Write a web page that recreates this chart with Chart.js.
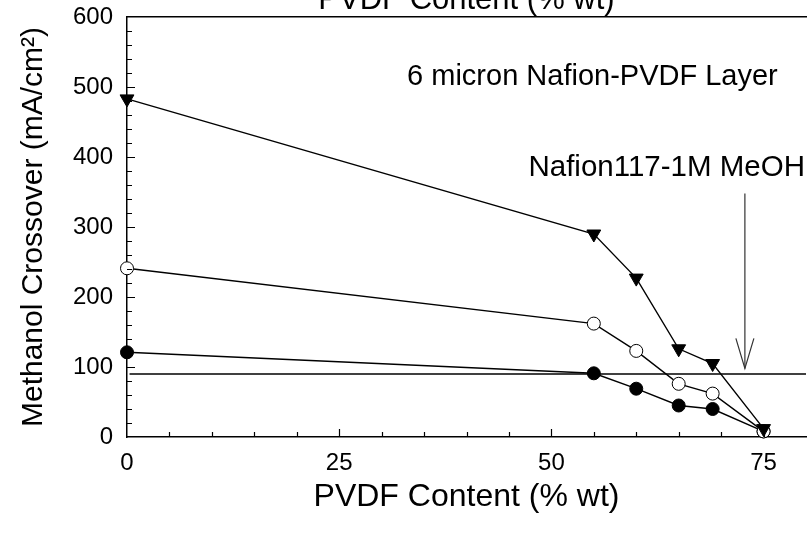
<!DOCTYPE html>
<html>
<head>
<meta charset="utf-8">
<script src="https://cdn.jsdelivr.net/npm/chart.js@4.4.1/dist/chart.umd.min.js"></script>
<style>
    html, body { margin: 0; padding: 0; overflow: hidden; background: #fff; width: 811px; height: 545px; }
    #wrap { position: absolute; left: 0; top: -30px; }
</style>
</head>
<body>
<div id="wrap"><canvas id="crossover-chart" width="815" height="575"></canvas></div>
<script>
// PVDF content of each layer (% wt)
const pvdf = [0, 55, 60, 65, 69, 75];
// methanol crossover current density (mA/cm2) for the three runs
const crossTriangle = [483, 290, 227, 126, 105, 12];
const crossOpen = [241, 162, 123, 76, 62, 8];
const crossFilled = [121, 91, 69, 45, 40, 8];
// Nafion 117 reference level and the arrow pointing at it
const nafionRef = 90;
const arrowX = 72.8;
const arrowFrom = 348;
const arrowTo = 98;

const xTicks = [0, 25, 50, 75];
const yTicks = [0, 100, 200, 300, 400, 500, 600];

const FONT = '"Liberation Sans", Arial, sans-serif';

function pts(ys) {
    return pvdf.map((x, i) => ({ x: x, y: ys[i] }));
}

// tick marks drawn inside the frame, major + minor
const innerTicks = {
    id: 'innerTicks',
    afterDraw(chart) {
        const ctx = chart.ctx;
        const x = chart.scales.x;
        const y = chart.scales.y;
        const area = chart.chartArea;
        ctx.save();
        ctx.strokeStyle = '#000';
        ctx.lineWidth = 1.2;
        ctx.beginPath();
        for (let v = 5; v < x.max; v += 5) {
            const px = Math.round(x.getPixelForValue(v)) + 0.5;
            const len = v % 25 === 0 ? 8 : 5;
            ctx.moveTo(px, area.bottom);
            ctx.lineTo(px, area.bottom - len);
        }
        for (let v = 20; v < y.max; v += 20) {
            const py = Math.round(y.getPixelForValue(v)) + 0.5;
            const len = v % 100 === 0 ? 8 : 5;
            ctx.moveTo(area.left, py);
            ctx.lineTo(area.left + len, py);
        }
        ctx.stroke();
        ctx.restore();
    }
};

// labels and the arrow head
const notes = {
    id: 'notes',
    afterDraw(chart) {
        const ctx = chart.ctx;
        const x = chart.scales.x;
        const y = chart.scales.y;
        ctx.save();
        ctx.fillStyle = '#000';
        ctx.font = '29px ' + FONT;
        ctx.textBaseline = 'middle';
        ctx.textAlign = 'left';
        ctx.fillText('6 micron Nafion-PVDF Layer', x.getPixelForValue(33), y.getPixelForValue(514));
        ctx.font = '29.5px ' + FONT;
        ctx.fillText('Nafion117-1M MeOH', x.getPixelForValue(47.3), y.getPixelForValue(384));

        const tx = x.getPixelForValue(arrowX);
        const ty = y.getPixelForValue(arrowTo);
        ctx.strokeStyle = '#333';
        ctx.lineWidth = 1.2;
        ctx.beginPath();
        ctx.moveTo(tx - 9, ty - 30);
        ctx.lineTo(tx, ty);
        ctx.lineTo(tx + 9, ty - 30);
        ctx.stroke();
        ctx.restore();
    }
};

const lineStyle = {
    borderColor: '#000',
    borderWidth: 1.4,
    showLine: true,
    clip: false,
    pointBorderColor: '#000',
    pointBorderWidth: 1
};

new Chart(document.getElementById('crossover-chart'), {
    type: 'scatter',
    data: {
        datasets: [
            Object.assign({
                data: pts(crossTriangle),
                pointStyle: 'triangle',
                rotation: 180,
                pointRadius: 8,
                pointBackgroundColor: '#000'
            }, lineStyle),
            Object.assign({
                data: pts(crossOpen),
                pointStyle: 'circle',
                pointRadius: 6.5,
                pointBackgroundColor: '#fff'
            }, lineStyle),
            Object.assign({
                data: pts(crossFilled),
                pointStyle: 'circle',
                pointRadius: 6.5,
                pointBackgroundColor: '#000'
            }, lineStyle),
            {
                data: [{ x: 0.3, y: nafionRef }, { x: 80, y: nafionRef }],
                showLine: true,
                pointRadius: 0,
                borderColor: '#000',
                borderWidth: 1.3
            },
            {
                data: [{ x: arrowX, y: arrowFrom }, { x: arrowX, y: arrowTo }],
                showLine: true,
                pointRadius: 0,
                borderColor: '#333',
                borderWidth: 1.2
            }
        ]
    },
    options: {
        responsive: false,
        animation: false,
        events: [],
        layout: { padding: 0 },
        plugins: {
            legend: { display: false },
            tooltip: { enabled: false }
        },
        scales: {
            x: {
                type: 'linear',
                position: 'bottom',
                min: 0,
                max: 80,
                afterBuildTicks: s => { s.ticks = xTicks.map(v => ({ value: v })); },
                afterFit: s => { s.height = 108; },
                grid: { display: false, drawTicks: false },
                border: { display: true, color: '#000', width: 1.5 },
                ticks: { color: '#000', padding: 12, font: { family: FONT, size: 24 }, maxRotation: 0 },
                title: {
                    display: true,
                    text: 'PVDF Content (% wt)',
                    color: '#000',
                    font: { family: FONT, size: 32 },
                    padding: { top: 0, bottom: 29 }
                }
            },
            x2: {
                type: 'linear',
                axis: 'x',
                position: 'top',
                min: 0,
                max: 80,
                afterFit: s => { s.height = 47; },
                grid: { display: false, drawTicks: false },
                border: { display: true, color: '#000', width: 1.5 },
                ticks: { display: false },
                title: {
                    display: true,
                    text: 'PVDF Content (% wt)',
                    color: '#000',
                    font: { family: FONT, size: 31 },
                    padding: { top: 12, bottom: 0 }
                }
            },
            y: {
                type: 'linear',
                min: 0,
                max: 600,
                afterBuildTicks: s => { s.ticks = yTicks.map(v => ({ value: v })); },
                afterFit: s => { s.width = 127; },
                grid: { display: false, drawTicks: false },
                border: { display: true, color: '#000', width: 1.5 },
                ticks: { color: '#000', padding: 14, font: { family: FONT, size: 24 } },
                title: {
                    display: true,
                    text: 'Methanol Crossover (mA/cm²)',
                    color: '#000',
                    font: { family: FONT, size: 30 },
                    padding: { top: 16, bottom: 0 }
                }
            }
        }
    },
    plugins: [innerTicks, notes]
});
</script>
</body>
</html>
